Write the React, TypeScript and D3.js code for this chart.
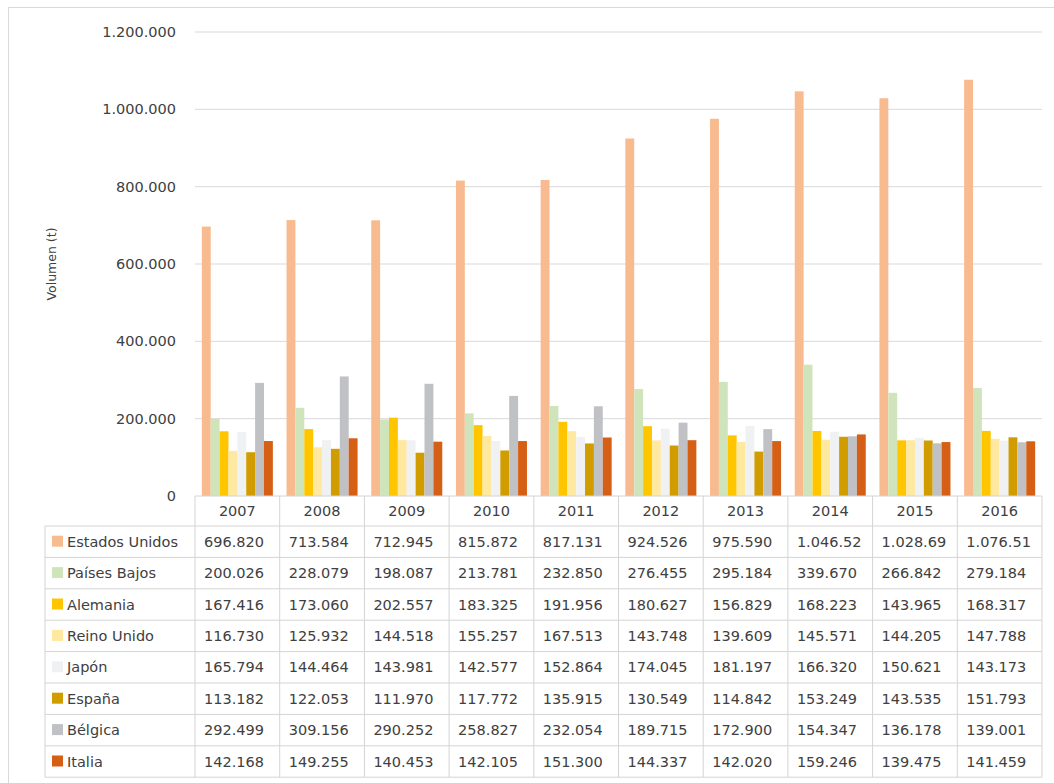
import * as d3 from 'd3';
import React from 'react';

const years = ['2007', '2008', '2009', '2010', '2011', '2012', '2013', '2014', '2015', '2016'];
const countries = ['Estados Unidos', 'Países Bajos', 'Alemania', 'Reino Unido', 'Japón', 'España', 'Bélgica', 'Italia'];
const colors = ['#F8BA8F', '#D0E4BC', '#FFC600', '#FFE8A0', '#F0F1F3', '#D09C00', '#C0C1C5', '#D55F14'];

const estadosUnidos = [696820, 713584, 712945, 815872, 817131, 924526, 975590, 1046520, 1028690, 1076510];
const paisesBajos = [200026, 228079, 198087, 213781, 232850, 276455, 295184, 339670, 266842, 279184];
const alemania = [167416, 173060, 202557, 183325, 191956, 180627, 156829, 168223, 143965, 168317];
const reinoUnido = [116730, 125932, 144518, 155257, 167513, 143748, 139609, 145571, 144205, 147788];
const japon = [165794, 144464, 143981, 142577, 152864, 174045, 181197, 166320, 150621, 143173];
const espana = [113182, 122053, 111970, 117772, 135915, 130549, 114842, 153249, 143535, 151793];
const belgica = [292499, 309156, 290252, 258827, 232054, 189715, 172900, 154347, 136178, 139001];
const italia = [142168, 149255, 140453, 142105, 151300, 144337, 142020, 159246, 139475, 141459];

const series = [estadosUnidos, paisesBajos, alemania, reinoUnido, japon, espana, belgica, italia];
const yTicks = [0, 200000, 400000, 600000, 800000, 1000000, 1200000];

const W = 1054, H = 783;
const plot = { left: 195, right: 1042, top: 32, bottom: 496 };
const tableLeft = 45;
const headerH = 30;
const rowH = 31.4;
const font = '"DejaVu Sans", sans-serif';
const textColor = '#404040';
const lineColor = '#d4d4d4';

// thousands with dots
const dots = (v: number) => d3.format(',')(v).replace(/,/g, '.');
// table cells are clipped like in the original
const cell = (v: number) => dots(v).slice(0, 8);

export default function App() {
  const x0 = d3.scaleBand().domain(years).range([plot.left, plot.right]).padding(0);
  const x1 = d3.scaleBand().domain(countries).range([0, x0.bandwidth()]).paddingInner(0).paddingOuter(0.77);
  const y = d3.scaleLinear().domain([0, 1200000]).range([plot.bottom, plot.top]);

  const tableTop = plot.bottom;
  const bodyTop = tableTop + headerH;
  const tableBottom = bodyTop + rowH * countries.length;

  return (
    <div style={{ position: 'absolute', left: 0, top: 0 }}>
      <svg width={W} height={H} style={{ display: 'block', background: '#fff' }} fontFamily={font}>
        <rect x={8.5} y={7.5} width={W + 10} height={H + 10} fill="none" stroke="#d9d9d9" />

        {/* gridlines + y ticks */}
        {yTicks.map(t => (
          <g key={t}>
            {t > 0 && <line x1={plot.left} x2={plot.right} y1={y(t)} y2={y(t)} stroke="#d9d9d9" />}
            <text x={176} y={y(t)} dy="0.35em" textAnchor="end" fontSize={14.5} fill={textColor}>
              {dots(t)}
            </text>
          </g>
        ))}

        <text transform={`translate(56,264) rotate(-90)`} textAnchor="middle" fontSize={12.5} fill={textColor}>
          Volumen (t)
        </text>

        {/* bars */}
        {years.map((yr, i) => (
          <g key={yr} transform={`translate(${x0(yr)},0)`}>
            {series.map((s, j) => (
              <rect key={j} x={x1(countries[j])} y={y(s[i])} width={x1.bandwidth()}
                height={plot.bottom - y(s[i])} fill={colors[j]} />
            ))}
          </g>
        ))}

        {/* data table */}
        <g stroke={lineColor} fill="none">
          <line x1={plot.left} x2={plot.right} y1={tableTop} y2={tableTop} />
          <line x1={tableLeft} x2={plot.right} y1={bodyTop} y2={bodyTop} />
          {countries.map((c, j) => (
            <line key={c} x1={tableLeft} x2={plot.right} y1={bodyTop + rowH * (j + 1)} y2={bodyTop + rowH * (j + 1)} />
          ))}
          <line x1={tableLeft} x2={tableLeft} y1={bodyTop} y2={tableBottom} />
          {years.map(yr => (
            <line key={yr} x1={x0(yr)} x2={x0(yr)} y1={tableTop} y2={tableBottom} />
          ))}
          <line x1={plot.right} x2={plot.right} y1={tableTop} y2={tableBottom} />
        </g>

        {years.map(yr => (
          <text key={yr} x={(x0(yr) as number) + x0.bandwidth() / 2} y={tableTop + headerH / 2} dy="0.35em"
            textAnchor="middle" fontSize={14.5} fill={textColor}>{yr}</text>
        ))}

        {countries.map((c, j) => {
          const cy = bodyTop + rowH * j + rowH / 2;
          return (
            <g key={c}>
              <rect x={52} y={cy - 6} width={11} height={11} fill={colors[j]} />
              <text x={67} y={cy} dy="0.35em" fontSize={14.5} fill={textColor}>{c}</text>
              {years.map((yr, i) => (
                <text key={yr} x={(x0(yr) as number) + 9} y={cy} dy="0.35em" fontSize={14.5} fill={textColor}>
                  {cell(series[j][i])}
                </text>
              ))}
            </g>
          );
        })}
      </svg>
    </div>
  );
}
